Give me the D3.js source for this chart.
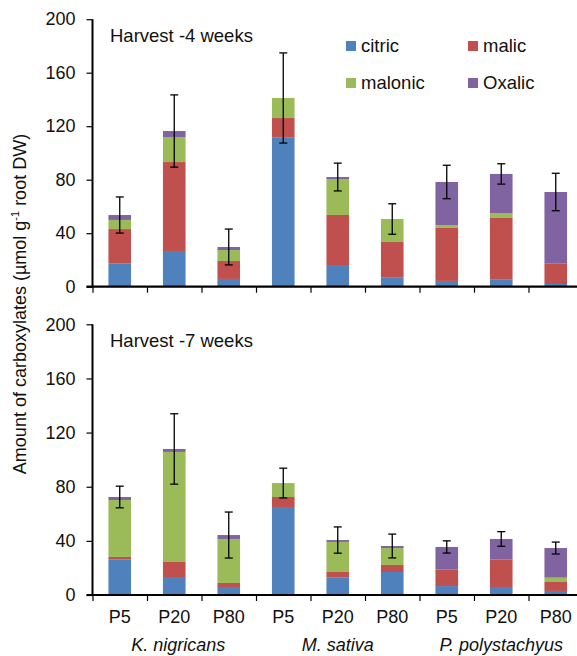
<!DOCTYPE html>
<html>
<head>
<meta charset="utf-8">
<script src="https://cdn.jsdelivr.net/npm/d3@7/dist/d3.min.js"></script>
<style>
  html, body { margin: 0; padding: 0; background: #fff; }
  svg { display: block; font-family: "Liberation Sans", Arial, sans-serif; }
</style>
</head>
<body>
<svg id="chart" width="577" height="656"></svg>
<script>
// Treatments (P supply) and the species they belong to
const categories = ["P5", "P20", "P80", "P5", "P20", "P80", "P5", "P20", "P80"];
const species = ["K. nigricans", "M. sativa", "P. polystachyus"];
const acids = ["citric", "malic", "malonic", "Oxalic"];
const yTicks = [0, 40, 80, 120, 160, 200];

// Harvest -4 weeks (µmol g-1 root DW)
const citric4  = [17.5, 26.7, 5.8, 111.4, 16.2, 6.7, 4.3, 5.2, 2.0];
const malic4   = [25.6, 66.5, 13.4, 14.7, 37.4, 26.7, 39.6, 46.2, 15.5];
const malonic4 = [6.8, 18.7, 8.2, 15.0, 26.9, 17.2, 2.2, 3.7, 0];
const oxalic4  = [3.7, 4.5, 2.3, 0, 1.5, 0, 32.2, 29.2, 53.3];
const err4     = [13.5, 27.0, 13.4, 33.7, 10.4, 11.4, 12.5, 7.6, 14.0];

// Harvest -7 weeks (µmol g-1 root DW)
const citric7  = [26.1, 13.3, 5.9, 65.0, 12.8, 17.0, 6.6, 5.9, 3.0];
const malic7   = [2.0, 11.1, 3.0, 7.4, 4.2, 5.2, 12.4, 20.2, 6.6];
const malonic7 = [42.1, 81.3, 32.5, 10.3, 22.2, 12.5, 0, 0, 3.2];
const oxalic7  = [2.2, 2.2, 2.9, 0, 1.4, 1.5, 16.5, 15.3, 21.9];
const err7     = [8.0, 26.0, 17.0, 11.0, 9.7, 8.8, 4.5, 5.4, 4.4];

const colors = ["#4F81BD", "#C0504D", "#9BBB59", "#8064A2"];

const svg = d3.select("#chart");
const xLeft = 92.5, xRight = 583;
const idx = d3.range(categories.length);

const x = d3.scaleBand().domain(idx).range([xLeft, xRight]).padding(0);
const xEdge = d3.scaleLinear().domain([0, categories.length]).range([xLeft, xRight]);
const barW = x.bandwidth() * 0.415;

const color = d3.scaleOrdinal().domain(acids).range(colors);

function panel(title, series, err, y0, y200) {
  const y = d3.scaleLinear().domain([0, 200]).range([y0, y200]);
  const g = svg.append("g");

  const rows = idx.map(i => {
    const r = { i };
    acids.forEach((a, k) => r[a] = series[k][i]);
    return r;
  });
  const stacked = d3.stack().keys(acids)(rows);

  g.selectAll("g.layer").data(stacked).join("g")
    .attr("class", "layer")
    .attr("fill", d => color(d.key))
    .selectAll("rect").data(d => d).join("rect")
    .attr("x", d => x(d.data.i) + (x.bandwidth() - barW) / 2)
    .attr("width", barW)
    .attr("y", d => y(d[1]))
    .attr("height", d => y(d[0]) - y(d[1]));

  // error bars around stacked totals
  const totals = rows.map(r => d3.sum(acids, a => r[a]));
  const eg = g.append("g").attr("stroke", "#000").attr("stroke-width", 1.3).attr("fill", "none");
  idx.forEach(i => {
    const cx = x(i) + x.bandwidth() / 2;
    const top = y(totals[i] + err[i]), bot = y(totals[i] - err[i]);
    eg.append("line").attr("x1", cx).attr("x2", cx).attr("y1", top).attr("y2", bot);
    eg.append("line").attr("x1", cx - 4).attr("x2", cx + 4).attr("y1", top).attr("y2", top);
    eg.append("line").attr("x1", cx - 4).attr("x2", cx + 4).attr("y1", bot).attr("y2", bot);
  });

  // y axis
  const ya = g.append("g").attr("transform", `translate(${xLeft},0)`)
    .call(d3.axisLeft(y).tickValues(yTicks).tickSize(6).tickPadding(11));
  ya.select(".domain").attr("stroke-width", 2).attr("d", `M0,${y(200)}V${y(0)}`);
  ya.selectAll(".tick line").attr("stroke-width", 1.2);
  ya.selectAll("text").attr("font-size", 18).attr("fill", "#111")
    .attr("font-family", '"Liberation Sans", Arial, sans-serif');

  // x axis with ticks at category boundaries
  const xa = g.append("g").attr("transform", `translate(0,${y0})`)
    .call(d3.axisBottom(xEdge).tickValues(d3.range(categories.length + 1)).tickSize(6).tickFormat(""));
  xa.select(".domain").attr("stroke-width", 2.2).attr("d", `M${xLeft - 6},0H${xRight}`);
  xa.selectAll(".tick line").attr("stroke-width", 1.2);

  g.append("text").attr("x", 110).attr("y", y200 + 23)
    .attr("font-size", 18.5).attr("fill", "#111").text(title);
  return y;
}

panel("Harvest -4 weeks", [citric4, malic4, malonic4, oxalic4], err4, 286.7, 19.2);
panel("Harvest -7 weeks", [citric7, malic7, malonic7, oxalic7], err7, 595, 324.3);

// legend
const legPos = [[346, 41], [468, 41], [346, 78], [468, 78]];
const leg = svg.append("g");
acids.forEach((a, k) => {
  const [lx, ly] = legPos[k];
  leg.append("rect").attr("x", lx).attr("y", ly).attr("width", 10).attr("height", 10).attr("fill", color(a));
  leg.append("text").attr("x", lx + 15).attr("y", ly + 11).attr("font-size", 18.5).attr("fill", "#111").text(a);
});

// category labels
svg.append("g").selectAll("text").data(idx).join("text")
  .attr("x", i => x(i) + x.bandwidth() / 2)
  .attr("y", 623)
  .attr("text-anchor", "middle")
  .attr("font-size", 18).attr("fill", "#111")
  .text(i => categories[i]);

// species labels under each group of three
svg.append("g").selectAll("text").data(species).join("text")
  .attr("x", (s, k) => xEdge(k * 3 + 1.5) + (k === 0 ? 4 : 0))
  .attr("y", 651)
  .attr("text-anchor", "middle")
  .attr("font-size", 18).attr("font-style", "italic").attr("fill", "#111")
  .text(s => s);

// y axis title
const yt = svg.append("text")
  .attr("transform", "translate(26,304) rotate(-90)")
  .attr("text-anchor", "middle")
  .attr("font-size", 18).attr("fill", "#111");
yt.append("tspan").text("Amount of carboxylates (µmol g");
yt.append("tspan").attr("font-size", 11).attr("dy", -7).text("-1");
yt.append("tspan").attr("dy", 7).text(" root DW)");
</script>
</body>
</html>
